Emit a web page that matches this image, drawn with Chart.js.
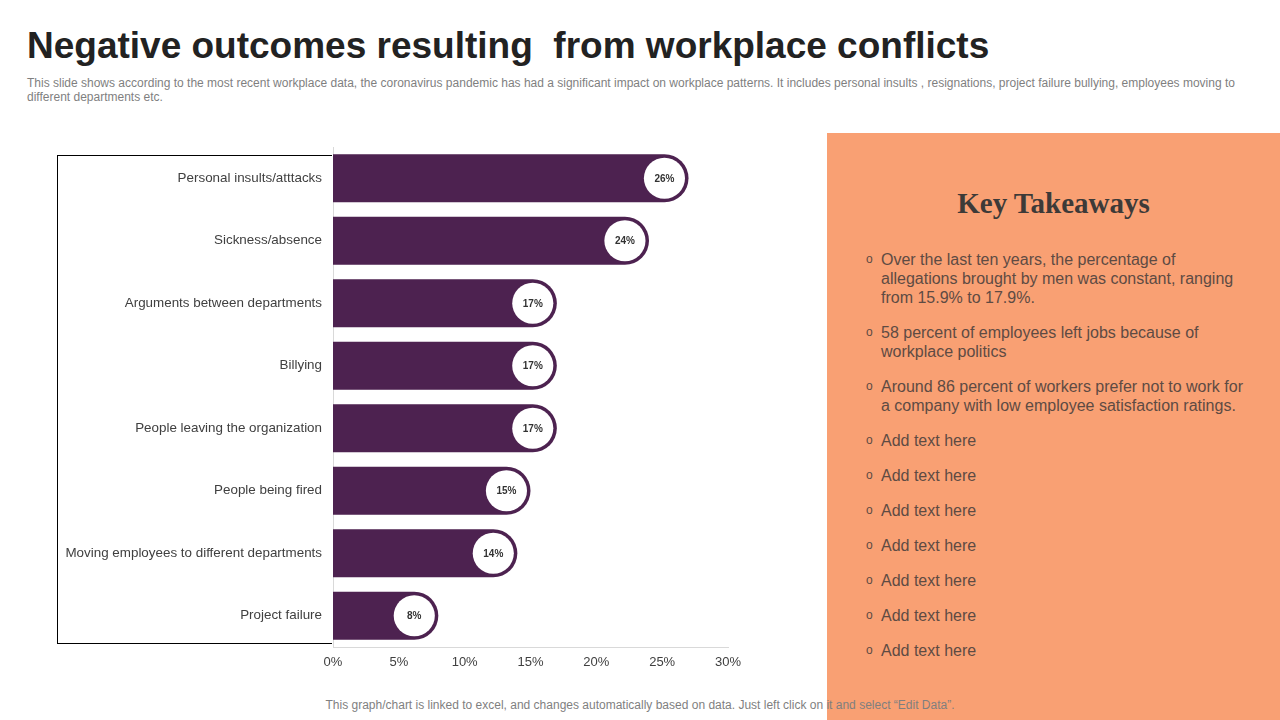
<!DOCTYPE html>
<html>
<head>
<meta charset="utf-8">
<script src="https://cdn.jsdelivr.net/npm/chart.js@4.4.0/dist/chart.umd.min.js"></script>
<style>
  body { margin: 0; width: 1280px; height: 720px; position: relative; background: #fff; font-family: "Liberation Sans", Arial, sans-serif; overflow: hidden; }
  #title { position: absolute; left: 27px; top: 25px; font-size: 37px; font-weight: bold; color: #222; white-space: pre; }
  #sub { position: absolute; left: 27px; top: 76px; width: 1240px; font-size: 12px; line-height: 14px; color: #7f7f7f; }
  #frame { position: absolute; left: 57px; top: 155px; width: 274px; height: 487px; border: 1px solid #000; border-right: none; }
  #chartBox { position: absolute; left: 50px; top: 140px; }
  #panel { position: absolute; left: 827px; top: 133px; width: 453px; height: 587px; background: #f9a073; }
  #panel h2 { margin: 0; position: absolute; top: 54px; left: 0; width: 453px; text-align: center; font-family: "Palatino Linotype", "Book Antiqua", "Liberation Serif", serif; font-size: 29px; font-weight: bold; color: #3d3a38; }
  #panel ul { position: absolute; left: 40px; top: 117px; margin: 0; padding: 0; list-style: none; width: 380px; }
  #panel li { position: relative; padding-left: 14px; font-size: 16px; line-height: 19px; color: #5e4b43; margin-bottom: 16px; }
  #panel li::before { content: "o"; position: absolute; left: -1px; top: 0; font-size: 12px; }
  #foot { position: absolute; left: 0; width: 1280px; top: 698px; text-align: center; font-size: 12px; color: #7f7f7f; z-index: 5; }
</style>
</head>
<body>
<div id="title">Negative outcomes resulting  from workplace conflicts</div>
<div id="sub">This slide shows according to the most recent workplace data, the coronavirus pandemic has had a significant impact on workplace patterns. It includes personal insults , resignations, project failure bullying, employees moving to<br>different departments etc.</div>

<div id="frame"></div>
<div id="chartBox"><canvas id="c" width="710" height="540"></canvas></div>

<div id="panel">
  <h2>Key Takeaways</h2>
  <ul>
    <li>Over the last ten years, the percentage of<br>allegations brought by men was constant, ranging<br>from 15.9% to 17.9%.</li>
    <li>58 percent of employees left jobs because of<br>workplace politics</li>
    <li>Around 86 percent of workers prefer not to work for<br>a company with low employee satisfaction ratings.</li>
    <li>Add text here</li>
    <li>Add text here</li>
    <li>Add text here</li>
    <li>Add text here</li>
    <li>Add text here</li>
    <li>Add text here</li>
    <li>Add text here</li>
  </ul>
</div>

<div id="foot">This graph/chart is linked to excel,  and changes automatically based on data. Just left click on it and select “Edit Data”.</div>

<script>
const categories = [
  'Personal insults/atttacks',
  'Sickness/absence',
  'Arguments between departments',
  'Billying',
  'People leaving the organization',
  'People being fired',
  'Moving employees to different departments',
  'Project failure'
];
// bar lengths as drawn (in %)
const values = [27, 24, 17, 17, 17, 15, 14, 8];
// text shown in the white circles
const valueLabels = ['26%', '24%', '17%', '17%', '17%', '15%', '14%', '8%'];
const xTicks = [0, 5, 10, 15, 20, 25, 30];

const barColor = '#4d2250';

// white circle with the value at the rounded end of every bar
const endCircles = {
  id: 'endCircles',
  afterDatasetsDraw(chart) {
    const ctx = chart.ctx;
    const meta = chart.getDatasetMeta(0);
    meta.data.forEach((bar, i) => {
      const r = bar.height / 2;
      const cx = bar.x - r;
      ctx.save();
      ctx.beginPath();
      ctx.arc(cx, bar.y, r - 3.5, 0, Math.PI * 2);
      ctx.fillStyle = '#ffffff';
      ctx.fill();
      ctx.fillStyle = '#333333';
      ctx.font = 'bold 10px "Liberation Sans", Arial, sans-serif';
      ctx.textAlign = 'center';
      ctx.textBaseline = 'middle';
      ctx.fillText(valueLabels[i], cx, bar.y + 0.5);
      ctx.restore();
    });
  }
};

new Chart(document.getElementById('c'), {
  type: 'bar',
  data: {
    labels: categories,
    datasets: [{
      data: values,
      backgroundColor: barColor,
      borderRadius: 100,
      borderSkipped: 'start',
      barPercentage: 0.77,
      categoryPercentage: 1
    }]
  },
  options: {
    indexAxis: 'y',
    responsive: false,
    animation: false,
    layout: { padding: { top: 7, right: 32, left: 0, bottom: 0 } },
    plugins: { legend: { display: false }, tooltip: { enabled: false } },
    scales: {
      x: {
        min: 0,
        max: 30,
        afterBuildTicks: s => { s.ticks = xTicks.map(v => ({ value: v })); },
        afterFit: s => { s.height = 33; },
        grid: { display: false, drawTicks: false },
        border: { display: true, color: '#d9d9d9', width: 1 },
        ticks: {
          padding: 8,
          color: '#404040',
          font: { family: '"Liberation Sans", Arial, sans-serif', size: 13 },
          callback: v => v + '%'
        }
      },
      y: {
        afterFit: s => { s.width = 283; s.paddingTop = 0; s.paddingBottom = 0; },
        grid: { display: false, drawTicks: false },
        border: { display: true, color: '#d9d9d9', width: 1 },
        ticks: {
          padding: 11,
          color: '#404040',
          font: { family: '"Liberation Sans", Arial, sans-serif', size: 13.4 }
        }
      }
    }
  },
  plugins: [endCircles]
});
</script>
</body>
</html>
